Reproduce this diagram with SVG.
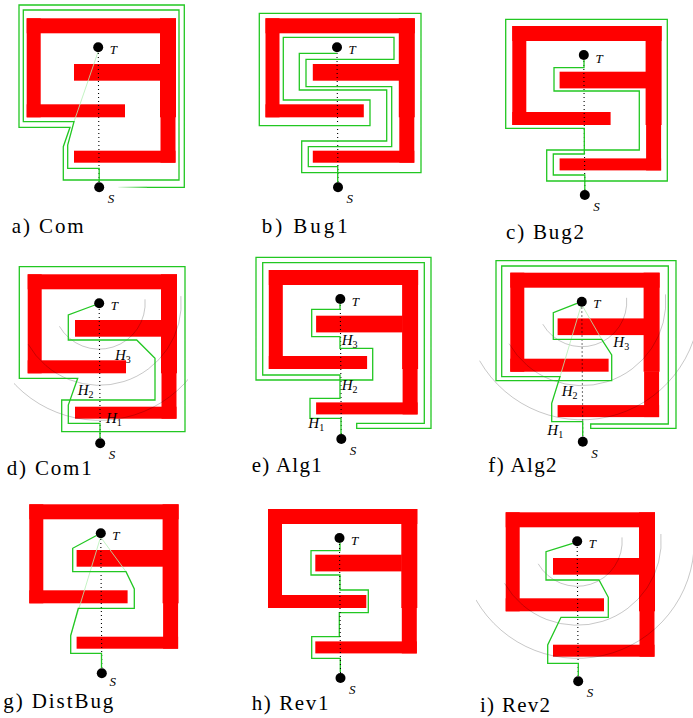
<svg xmlns="http://www.w3.org/2000/svg" xmlns:xlink="http://www.w3.org/1999/xlink" width="693" height="718" viewBox="0 0 693 718">
<style>
.ob{fill:#ff0000}
.g{fill:none;stroke:#22c722;stroke-width:1.3}
.lg{fill:none;stroke:#b4f0b4;stroke-width:0.8}
.dot{fill:none;stroke:#000;stroke-width:1.1;stroke-dasharray:1 3}
.arc{fill:none;stroke:#000;stroke-opacity:0.22;stroke-width:1}
.pt{fill:#000}
.lab{font-family:"Liberation Serif",serif;font-style:italic;font-size:13px;fill:#000}
.hl{font-size:15px}
.sub{font-size:10px;font-style:normal}
.cap{font-family:"Liberation Serif",serif;font-size:21px;fill:#000}
</style>
<defs>
<g id="obs">
<rect class="ob" x="0" y="0" width="149.3" height="15"/>
<rect class="ob" x="0" y="0" width="14" height="99"/>
<rect class="ob" x="133.3" y="0" width="16" height="99"/>
<rect class="ob" x="133.8" y="98.5" width="15" height="45.9"/>
<rect class="ob" x="47.3" y="45.7" width="86.5" height="16.7"/>
<rect class="ob" x="0" y="86" width="98.3" height="13"/>
<rect class="ob" x="47.3" y="132.4" width="101.5" height="12"/>
</g>
<linearGradient id="fade" gradientUnits="userSpaceOnUse" x1="118" y1="0" x2="150" y2="0">
<stop offset="0" stop-color="#22c722" stop-opacity="0.1"/>
<stop offset="1" stop-color="#22c722" stop-opacity="1"/>
</linearGradient>
<clipPath id="cd"><rect x="14" y="250" width="174" height="210"/></clipPath>
<clipPath id="cf"><rect x="478" y="250" width="215" height="210"/></clipPath>
<clipPath id="ci"><rect x="476" y="490" width="217" height="210"/></clipPath>
</defs>

<!-- a) Com -->
<g id="panel-a">
<use xlink:href="#obs" x="26.7" y="18.3"/>
<g class="connectors">
<path class="lg" d="M98 52 L74 121.7"/>
<path class="dot" d="M98.3 53 L99.1 182"/>
<path class="g" d="M99.2 182 V168.3 H67.7 V145 L74 121.7 H23.3 V10 H179 V180 H63.3 V146.7 L70 127.3 H19 V5 H184.3 V187.3 H147"/>
<path d="M147 187.3 H118.3" fill="none" stroke="url(#fade)" stroke-width="1.3"/>
</g>
<circle class="pt" cx="98.2" cy="47.3" r="5"/>
<circle class="pt" cx="99.2" cy="187.3" r="5"/>
<text class="lab" x="109.7" y="53.8">T</text>
<text class="lab" x="107.7" y="203.3">S</text>
<text class="cap" x="11.7" y="233.3" textLength="72" lengthAdjust="spacing">a) Com</text>
</g>

<!-- b) Bug1 -->
<g id="panel-b">
<use xlink:href="#obs" x="265.5" y="18.3"/>
<g class="connectors">
<path class="dot" d="M337 53 L338 182"/>
<path class="g" d="M337.7 182.7 V166.7 H308.3 V146.7 H391.7 V86.7 H306 V59.3 H394 V37.3 H283.3 V100 H370 V125.7 H259.3 V13.3 H421 V172.7 H301.7 V141 H386.7 V90 H299.3 V53.3 H336.7"/>
</g>
<circle class="pt" cx="337" cy="47.3" r="5"/>
<circle class="pt" cx="338" cy="187.3" r="5"/>
<text class="lab" x="348.5" y="53.8">T</text>
<text class="lab" x="346.5" y="203.3">S</text>
<text class="cap" x="261.7" y="233.3" textLength="86" lengthAdjust="spacing">b) Bug1</text>
</g>

<!-- c) Bug2 -->
<g id="panel-c">
<use xlink:href="#obs" x="512.3" y="26"/>
<g class="connectors">
<path class="dot" d="M583.8 61 L584.8 190"/>
<path class="g" d="M584.8 190 V175 H553.3 V154 H584.3 V128.3 H505.7 V19.3 H667.3 V181 H546.7 V150 H639.3 V91 H554 V67.7 H584 V60"/>
</g>
<circle class="pt" cx="583.8" cy="55" r="5"/>
<circle class="pt" cx="584.8" cy="195" r="5"/>
<text class="lab" x="595.5" y="62.5">T</text>
<text class="lab" x="593.3" y="211">S</text>
<text class="cap" x="506" y="238.5" textLength="78" lengthAdjust="spacing">c) Bug2</text>
</g>

<!-- d) Com1 -->
<g id="panel-d">
<use xlink:href="#obs" x="27.7" y="274.3"/>
<g clip-path="url(#cd)">
<path class="arc" d="M59.4 326.3 A46 46 0 0 0 145 299.3"/>
<path class="arc" d="M28.2 344.3 A82 82 0 0 0 180.9 296.1"/>
<path class="arc" d="M-2.1 361.8 A117 117 0 0 0 215.8 293.1"/>
</g>
<g class="connectors">
<path class="dot" d="M99.2 309 L100.2 438"/>
<path class="g" d="M100 438 V423.3 H68.3 V405 L77.7 378.3 H19.3 V266.7 H185 V431.7 H61.7 V400 H155 V358.3 L136.7 340 H68.3 V315 L95 305"/>
</g>
<circle class="pt" cx="99.2" cy="303.3" r="5"/>
<circle class="pt" cx="100.2" cy="443.3" r="5"/>
<text class="lab" x="110.7" y="309.8">T</text>
<text class="lab" x="108.7" y="459.3">S</text>
<text class="lab hl" x="115" y="360">H<tspan class="sub" dy="3">3</tspan></text>
<text class="lab hl" x="77.7" y="395">H<tspan class="sub" dy="3">2</tspan></text>
<text class="lab hl" x="106" y="423.3">H<tspan class="sub" dy="3">1</tspan></text>
<text class="cap" x="6.7" y="475" textLength="85" lengthAdjust="spacing">d) Com1</text>
</g>

<!-- e) Alg1 -->
<g id="panel-e">
<use xlink:href="#obs" x="268.8" y="270"/>
<g class="connectors">
<path class="dot" d="M340.3 305 L341.3 434"/>
<path class="g" d="M341 434 V418.3 H310 V398.3 H340 V375 H262.7 V262.7 H424.3 V423.3 H356.7 V428.3 H431 V257.3 H256 V380 H372.7 V348.3 H340 V336.7 H311.7 V309.3 H340 V304"/>
</g>
<circle class="pt" cx="340.3" cy="299" r="5"/>
<circle class="pt" cx="341.3" cy="439" r="5"/>
<text class="lab" x="351.8" y="305.5">T</text>
<text class="lab" x="349.8" y="455">S</text>
<text class="lab hl" x="341.7" y="345">H<tspan class="sub" dy="3">3</tspan></text>
<text class="lab hl" x="341.7" y="390">H<tspan class="sub" dy="3">2</tspan></text>
<text class="lab hl" x="308.3" y="428.3">H<tspan class="sub" dy="3">1</tspan></text>
<text class="cap" x="251.7" y="471.7" textLength="70" lengthAdjust="spacing">e) Alg1</text>
</g>

<!-- f) Alg2 -->
<g id="panel-f">
<use xlink:href="#obs" x="510.3" y="272.7"/>
<g clip-path="url(#cf)">
<path class="arc" d="M542.8 324.2 A45 45 0 0 0 626.6 297.8"/>
<path class="arc" d="M509.1 343.7 A84 84 0 0 0 665.5 294.4"/>
<path class="arc" d="M479.6 360.7 A118 118 0 0 0 699.4 291.4"/>
</g>
<g class="connectors">
<path class="lg" d="M581 306 L560 376.7"/>
<path class="lg" d="M582.5 306 L601.7 339.3"/>
<path class="dot" d="M581.8 307.5 L582.8 436.5"/>
<path class="g" d="M582.7 436 V421.7 H551.7 V403.3 L560 376.7 H501.7 V266 H668.3 V424 H590.7 V428.3 H676 V260.7 H496 V380.7 H611.7 V355 L601.7 339.3 H553.3 V312.7 L577 303.3"/>
</g>
<circle class="pt" cx="581.8" cy="301.7" r="5"/>
<circle class="pt" cx="582.8" cy="441.7" r="5"/>
<text class="lab" x="593.3" y="308.2">T</text>
<text class="lab" x="591.3" y="457.7">S</text>
<text class="lab hl" x="613.3" y="347.3">H<tspan class="sub" dy="3">3</tspan></text>
<text class="lab hl" x="561.7" y="396">H<tspan class="sub" dy="3">2</tspan></text>
<text class="lab hl" x="547.3" y="435">H<tspan class="sub" dy="3">1</tspan></text>
<text class="cap" x="488.3" y="471.7" textLength="68.3" lengthAdjust="spacing">f) Alg2</text>
</g>

<!-- g) DistBug -->
<g id="panel-g">
<use xlink:href="#obs" x="29.3" y="504.3"/>
<g class="connectors">
<path class="lg" d="M100.3 538 L70.7 635.7"/>
<path class="lg" d="M101.3 538 L126 571.7"/>
<path class="dot" d="M100.8 539 L101.8 668"/>
<path class="g" d="M101.5 668 V653.3 H70.7 V635.7 L78.3 608.3 H134.3 V589 L126 571.7 H72.7 V548.3 L96.5 535.5"/>
</g>
<circle class="pt" cx="100.8" cy="533.3" r="5"/>
<circle class="pt" cx="101.8" cy="673.3" r="5"/>
<text class="lab" x="112.3" y="539.8">T</text>
<text class="lab" x="109.5" y="686">S</text>
<text class="cap" x="3.3" y="708.3" textLength="110" lengthAdjust="spacing">g) DistBug</text>
</g>

<!-- h) Rev1 -->
<g id="panel-h">
<use xlink:href="#obs" x="268" y="509"/>
<g class="connectors">
<path class="g" d="M340.3 672 V658.3 H311.7 V636.7 H339.3 V612.7 H368.3 V590 H340 V575 H311 V550.7 H340 V543"/>
<path class="dot" d="M339.5 544 L340.5 673"/>
</g>
<circle class="pt" cx="339.5" cy="538" r="5"/>
<circle class="pt" cx="340.5" cy="678" r="5"/>
<text class="lab" x="351" y="544.5">T</text>
<text class="lab" x="349" y="694">S</text>
<text class="cap" x="251.7" y="710" textLength="76.7" lengthAdjust="spacing">h) Rev1</text>
</g>

<!-- i) Rev2 -->
<g id="panel-i">
<use xlink:href="#obs" x="505.7" y="512.3"/>
<g clip-path="url(#ci)">
<path class="arc" d="M538.2 563.8 A45 45 0 0 0 622 537.4"/>
<path class="arc" d="M504.5 583.3 A84 84 0 0 0 660.9 534"/>
<path class="arc" d="M475.9 599.8 A117 117 0 0 0 693.8 531.1"/>
</g>
<g class="connectors">
<path class="dot" d="M577.2 547 L578.2 676"/>
<path class="g" d="M578.3 676 V663.3 H547.7 V645 L561 617.3 H608.3 V597.3 L599 580 H546 V551.7 L572.7 543.3"/>
</g>
<circle class="pt" cx="577.2" cy="541.3" r="5"/>
<circle class="pt" cx="578.2" cy="681.3" r="5"/>
<text class="lab" x="588.7" y="547.8">T</text>
<text class="lab" x="586.7" y="697.3">S</text>
<text class="cap" x="480" y="711.7" textLength="70" lengthAdjust="spacing">i) Rev2</text>
</g>
</svg>
